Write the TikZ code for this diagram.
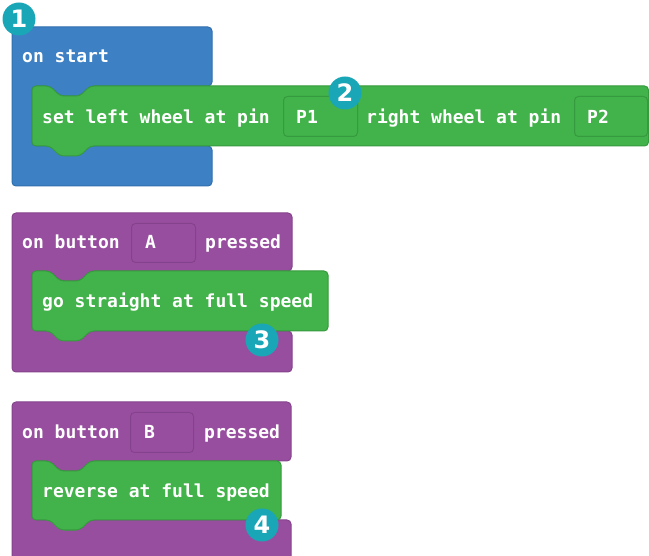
\documentclass[tikz,border=0pt]{standalone}
\usepackage{fontspec}
\setmonofont{DejaVu Sans Mono}
\newfontfamily\badgefont{DejaVu Sans}

\definecolor{startblue}{HTML}{3D81C4}
\definecolor{startedge}{HTML}{306FAE}
\definecolor{stmtgreen}{HTML}{42B24A}
\definecolor{stmtedge}{HTML}{369A3E}
\definecolor{eventpurple}{HTML}{984E9F}
\definecolor{eventedge}{HTML}{85428C}
\definecolor{badgeteal}{HTML}{19A6B7}

\begin{document}
\begin{tikzpicture}[x=1pt, y=-1pt,
    lbl/.style={anchor=base west, inner sep=0, text=white, font=\fontsize{18}{18}\selectfont\ttfamily\bfseries},
    badge/.style={shape=circle, fill=badgeteal, inner sep=0, minimum size=33, text=white, font=\badgefont\bfseries\fontsize{24}{24}\selectfont},
    slotbox/.style={draw, rounded corners=4, line width=1, inner sep=0, anchor=north west},
    blockline/.style={line width=1, rounded corners=4}]
    \useasboundingbox (0,0) rectangle (649,556);

    % on start
    \draw[blockline, fill=startblue, draw=startedge] (12,27) -- (212,27) -- (212,86) -- (90,86) -- (80,96) -- (60,96) -- (50,86) -- (32,86) -- (32,146) -- (212,146) -- (212,186) -- (12,186) -- cycle;
    \draw[blockline, fill=stmtgreen, draw=stmtedge] (32,86) -- (50,86) -- (60,96) -- (80,96) -- (90,86) -- (648.5,86) -- (648.5,146) -- (90,146) -- (80,156) -- (60,156) -- (50,146) -- (32,146) -- cycle;
    \node[lbl] (onstart) at (22,63) {on start};
    \node[lbl] (setleft) at (42,124) {set left wheel at pin};
    \node[slotbox, draw=stmtedge, minimum width=74, minimum height=40] (slotleft) at (283,96) {};
    \node[lbl] (pinleft) at (296,124) {P1};
    \node[lbl] (setright) at (366,124) {right wheel at pin};
    \node[slotbox, draw=stmtedge, minimum width=73, minimum height=40] (slotright) at (574,96) {};
    \node[lbl] (pinright) at (587,124) {P2};

    % button A
    \draw[blockline, fill=eventpurple, draw=eventedge] (12,213) -- (292,213) -- (292,271) -- (90,271) -- (80,281) -- (60,281) -- (50,271) -- (32,271) -- (32,331) -- (292,331) -- (292,372) -- (12,372) -- cycle;
    \node[slotbox, draw=eventedge, minimum width=64, minimum height=39] (slotA) at (131,223) {};
    \node[lbl] (onbuttonA) at (22,249) {on button};
    \node[lbl] (keyA) at (145,249) {A};
    \node[lbl] (pressedA) at (205,249) {pressed};
    \draw[blockline, fill=stmtgreen, draw=stmtedge] (32,271) -- (50,271) -- (60,281) -- (80,281) -- (90,271) -- (328,271) -- (328,331) -- (90,331) -- (80,341) -- (60,341) -- (50,331) -- (32,331) -- cycle;
    \node[lbl] (straight) at (42,308) {go straight at full speed};

    % button B
    \draw[blockline, fill=eventpurple, draw=eventedge] (12,402) -- (291,402) -- (291,461) -- (90,461) -- (80,471) -- (60,471) -- (50,461) -- (32,461) -- (32,520) -- (291,520) -- (291,580) -- (12,580) -- cycle;
    \node[slotbox, draw=eventedge, minimum width=63, minimum height=40] (slotB) at (130,412) {};
    \node[lbl] (onbuttonB) at (22,439) {on button};
    \node[lbl] (keyB) at (144,439) {B};
    \node[lbl] (pressedB) at (204,439) {pressed};
    \draw[blockline, fill=stmtgreen, draw=stmtedge] (32,461) -- (50,461) -- (60,471) -- (80,471) -- (90,461) -- (281,461) -- (281,520) -- (90,520) -- (80,530) -- (60,530) -- (50,520) -- (32,520) -- cycle;
    \node[lbl] (reverse) at (42,498) {reverse at full speed};

    % numbered markers
    \node[badge] (one) at (19,19) {1};
    \node[badge] (two) at (345,93) {2};
    \node[badge] (three) at (262,340) {3};
    \node[badge] (four) at (262,525) {4};
\end{tikzpicture}
\end{document}
